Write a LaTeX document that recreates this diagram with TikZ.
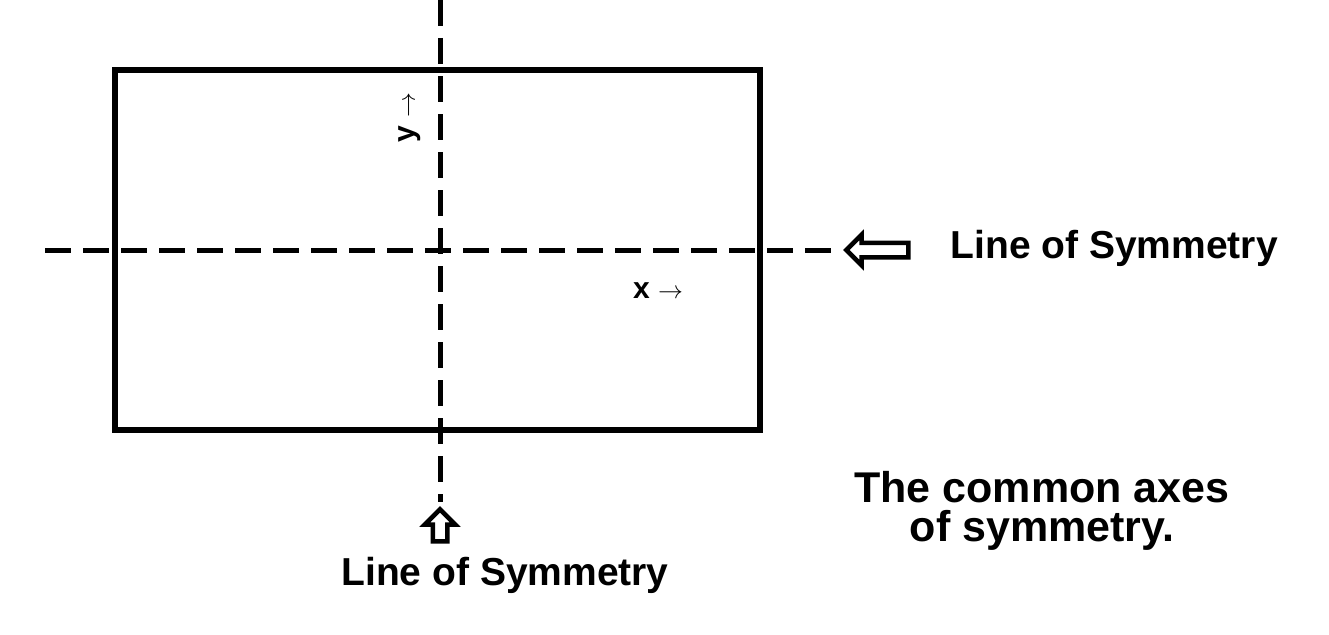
\documentclass[tikz,border=0pt]{standalone}
\usepackage{fontspec}
\setmainfont{Liberation Sans}
\usetikzlibrary{shapes.arrows}
\tikzset{
    symline/.style={line width=5pt, dash pattern=on 26pt off 12pt},
    hollowarrow/.style={single arrow, draw, line width=4.5pt, fill=white,
        inner sep=5pt, single arrow head extend=8pt, minimum height=62pt},
    biglabel/.style={font=\bfseries\fontsize{39}{42}\selectfont},
    axisname/.style={font=\bfseries\fontsize{30}{32}\selectfont, inner sep=0pt},
}
\begin{document}
\begin{tikzpicture}[x=1pt, y=-1pt]
    \useasboundingbox (0,0) rectangle (1329,634);
    % the plate
    \node[draw, line width=5.5pt, minimum width=645pt, minimum height=360pt] (plate) at (437.5,250) {};
    % the two axes
    \coordinate (htop) at (45,250);
    \coordinate (hend) at (836,250);
    \coordinate (vtop) at (440,0);
    \coordinate (vend) at (440,502);
    \draw[symline] (htop) -- (hend);
    \draw[symline] (vtop) -- (vend);
    % arrows pointing at the axes
    \node[hollowarrow, shape border rotate=180] (harrow) at (881,250) {};
    \node[hollowarrow, shape border rotate=90, minimum height=32pt] (varrow) at (440,529) {};
    \node[biglabel, anchor=west] (hlabel) at (947,248) {Line of Symmetry};
    \node[biglabel] (vlabel) at (505,575) {Line of Symmetry};
    % axis names
    \node[axisname] (xlabel) at (658,291) {x $\rightarrow$};
    \node[axisname, rotate=90] (ylabel) at (410,118) {y $\rightarrow$};
    \node[align=center, font=\bfseries\fontsize{43}{39}\selectfont] (caption) at (1042,511) {The common axes\\of symmetry.};
\end{tikzpicture}
\end{document}
